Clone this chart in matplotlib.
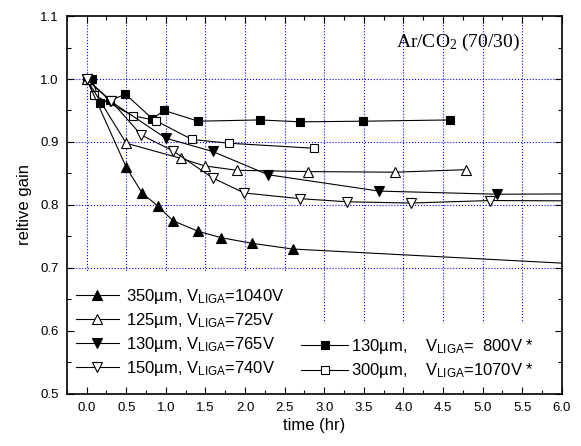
import matplotlib
matplotlib.use('Agg')
import matplotlib.pyplot as plt
from matplotlib.ticker import MultipleLocator

plt.rcParams['font.family'] = ['Liberation Sans', 'DejaVu Sans']
plt.rcParams['mathtext.default'] = 'regular'

# 350um, V_LIGA=1040V  (filled up triangle)
t_350 = [0.0, 0.5, 0.70, 0.90, 1.09, 1.41, 1.70, 2.09, 2.60, 7.0]
g_350 = [1.0, 0.860, 0.819, 0.798, 0.775, 0.758, 0.748, 0.739, 0.730, 0.701]

# 125um, V_LIGA=725V  (open up triangle)
t_125 = [0.0, 0.5, 1.19, 1.49, 1.90, 2.79, 3.89, 4.79]
g_125 = [1.0, 0.898, 0.874, 0.862, 0.855, 0.853, 0.852, 0.856]

# 130um, V_LIGA=765V  (filled down triangle)
t_130 = [0.0, 0.30, 1.0, 1.59, 2.29, 3.69, 5.18, 7.0]
g_130 = [1.0, 0.965, 0.906, 0.885, 0.848, 0.822, 0.817, 0.818]

# 150um, V_LIGA=740V  (open down triangle)
t_150 = [0.0, 0.31, 0.69, 1.09, 1.59, 1.99, 2.69, 3.29, 4.09, 5.09, 7.0]
g_150 = [1.0, 0.965, 0.911, 0.886, 0.843, 0.819, 0.810, 0.805, 0.803, 0.807, 0.806]

# 130um, V_LIGA=800V *  (filled square)
t_130b = [0.07, 0.17, 0.30, 0.49, 0.83, 0.98, 1.41, 2.19, 2.69, 3.49, 4.59]
g_130b = [1.0, 0.962, 0.966, 0.976, 0.937, 0.950, 0.933, 0.935, 0.932, 0.933, 0.935]

# 300um, V_LIGA=1070V *  (open square)
t_300 = [0.0, 0.09, 0.58, 0.87, 1.33, 1.80, 2.87]
g_300 = [1.0, 0.975, 0.942, 0.934, 0.904, 0.898, 0.890]

fig = plt.figure(figsize=(5.81, 4.46), dpi=100)
ax = fig.add_axes([0.115, 0.117, 0.852, 0.847])

lw = 0.8
kw = dict(color='black', lw=lw, mec='black', mew=0.8)

l5, = ax.plot(t_130b, g_130b, marker='s', ms=6, mfc='black', **kw)
l6, = ax.plot(t_300, g_300, marker='s', ms=6, mfc='white', **kw)
l1, = ax.plot(t_350, g_350, marker='^', ms=7, mfc='black', **kw)
l2, = ax.plot(t_125, g_125, marker='^', ms=7, mfc='white', **kw)
l3, = ax.plot(t_130, g_130, marker='v', ms=7, mfc='black', **kw)
l4, = ax.plot(t_150, g_150, marker='v', ms=7, mfc='white', **kw)

ax.set_xlim(-0.25, 6.0)
ax.set_ylim(0.5, 1.1)
ax.xaxis.set_major_locator(MultipleLocator(0.5))
ax.xaxis.set_minor_locator(MultipleLocator(0.25))
ax.yaxis.set_major_locator(MultipleLocator(0.1))
ax.yaxis.set_minor_locator(MultipleLocator(0.05))
ax.xaxis.set_major_formatter(plt.FormatStrFormatter('%.1f'))
ax.yaxis.set_major_formatter(plt.FormatStrFormatter('%.1f'))
ax.tick_params(which='both', direction='in', top=True, right=True, labelsize=9.5)
ax.tick_params(which='major', length=5, width=0.8, pad=6)
ax.tick_params(which='minor', length=3, width=0.8)
for s in ax.spines.values():
    s.set_linewidth(1.2)

# grid drawn by hand so the legend boxes can sit between grid and ticks
for xv in ax.get_xticks():
    if -0.25 < xv < 6.0:
        ax.axvline(xv, color='blue', linestyle=':', linewidth=0.8, zorder=0.5)
for yv in ax.get_yticks():
    if 0.5 < yv < 1.1:
        ax.axhline(yv, color='blue', linestyle=':', linewidth=0.8, zorder=0.5)

ax.set_xlabel('time (hr)', fontsize=12, labelpad=3)
ax.set_ylabel('reltive gain', fontsize=12, labelpad=6)

ax.text(0.915, 0.929, 'Ar/CO$_2$ (70/30)', transform=ax.transAxes,
        ha='right', va='center', fontsize=14, family=['Liberation Serif'])

leg1 = ax.legend([l1, l2, l3, l4],
                 ['350µm, V$_{LIGA}$=1040V', '125µm, V$_{LIGA}$=725V',
                  '130µm, V$_{LIGA}$=765V', '150µm, V$_{LIGA}$=740V'],
                 loc='lower left', bbox_to_anchor=(-0.014, 0.0, 0.481, 0.3),
                 mode='expand', fontsize=12, frameon=True, fancybox=False,
                 edgecolor='none', facecolor='white', framealpha=1,
                 borderaxespad=0, borderpad=0.95, labelspacing=0.3,
                 handlelength=2.6, handletextpad=0.4)
leg1.set_zorder(1)
ax.add_artist(leg1)

leg2 = ax.legend([l5, l6],
                 ['130µm,    V$_{LIGA}$=  800V *', '300µm,    V$_{LIGA}$=1070V *'],
                 loc='lower left', bbox_to_anchor=(0.447, 0.0, 0.553, 0.2),
                 mode='expand', fontsize=12, frameon=True, fancybox=False,
                 edgecolor='none', facecolor='white', framealpha=1,
                 borderaxespad=0, borderpad=0.8, labelspacing=0.35,
                 handlelength=2.8, handletextpad=0.2)
leg2.set_zorder(1)

fig.savefig('out.png', dpi=100)
